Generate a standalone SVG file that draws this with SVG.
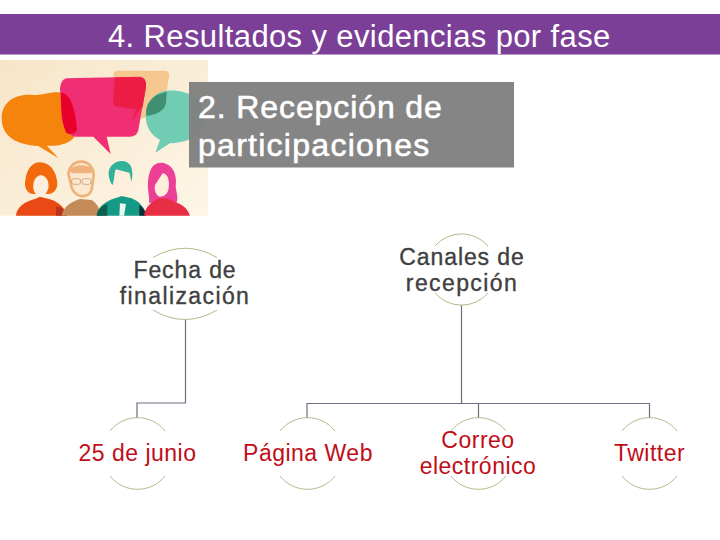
<svg xmlns="http://www.w3.org/2000/svg" width="720" height="540" viewBox="0 0 720 540">
<style>
text{font-family:"Liberation Sans",Arial,sans-serif}
.dark{font-size:23px;fill:#404040;stroke:#404040;stroke-width:.35px;text-anchor:middle;letter-spacing:.9px}
.red{font-size:23px;fill:#c00d18;text-anchor:middle;letter-spacing:.5px}
.arc{fill:none;stroke:#b4bb8c;stroke-width:1}
.conn{fill:none;stroke:#6f6f82;stroke-width:1.2}
.head{font-size:31px;fill:#fff;letter-spacing:.38px}
.sub{font-size:32px;fill:#fff;stroke:#fff;stroke-width:.6px;letter-spacing:1.27px}
</style>
<defs>
<linearGradient id="bg" x1="0" y1="0" x2="1" y2="1"><stop offset="0" stop-color="#f7e5c9"/><stop offset="1" stop-color="#fdf6e6"/></linearGradient>
<filter id="soft" x="0" y="0" width="1" height="1"><feGaussianBlur stdDeviation="1.5"/></filter>
</defs>
<rect width="720" height="540" fill="#fff"/>
<rect x="0" y="14" width="720" height="40.500" fill="#7c3f98"/>
<text class="head" x="108" y="47">4. Resultados y evidencias por fase</text>

<g transform="translate(0,50) scale(.33333)" filter="url(#soft)">
<rect x="0" y="30" width="624" height="467" fill="url(#bg)"/>
<path d="M355 62H495Q510 62 507 80L495 150Q480 185 440 200L400 215L415 180L340 170V75Q340 62 355 62Z" fill="#f6c78f"/>
<path d="M5 205C5 160 40 130 100 135C130 135 155 122 190 128C215 135 225 190 230 235C230 275 190 290 140 287L176 325L115 288C50 285 5 260 5 205Z" fill="#f58408"/>
<path d="M200 85L420 80Q440 82 438 110L415 240Q410 262 385 260H320L332 312L280 260H225Q190 250 185 200L180 115Q182 88 200 85Z" fill="#ef2f73"/>
<path d="M345 82H420Q440 84 438 110L428 170L415 185L395 215L408 178L350 170Q338 165 339 150Z" fill="#ed1f45"/>
<path d="M183 128C210 130 225 170 231 235C231 250 215 255 200 250C190 235 182 190 183 128Z" fill="#e8062c"/>
<path d="M500 122C570 118 615 150 612 210C610 260 560 278 510 280L466 308L480 270C450 255 435 225 437 190C440 150 470 125 500 122Z" fill="#70cdb3"/>
<path d="M500 125L498 160Q490 192 440 198Q432 160 470 135Z" fill="#3f8f73"/>
<path d="M120 337C150 337 170 365 172 400C172 420 160 432 145 432H98C80 430 72 410 76 390C80 360 95 337 120 337Z" fill="#f26a10"/>
<path d="M48 497C50 470 75 455 105 447L120 440L150 448C180 458 195 475 200 497Z" fill="#ea4a16"/>
<path d="M122 375C140 378 148 395 145 415C140 432 130 440 122 440C112 440 102 430 100 415C98 395 105 380 122 375Z" fill="#fdeedd"/>
<path d="M168 470C190 470 200 485 200 497H168Z" fill="#b8321e"/>
<path d="M185 497C188 470 215 455 240 447L275 450C290 460 300 475 302 497Z" fill="#c48b58"/>
<path d="M243 335C270 335 285 360 280 385L275 420C268 435 255 440 243 438C225 435 215 420 212 400L205 370C208 350 222 335 243 335Z" fill="#fbe8cf" stroke="#eeb27a" stroke-width="8"/>
<path d="M207 365C215 340 270 338 282 365L270 370H220Z" fill="#f0b27c"/>
<g fill="none" stroke="#c58e60" stroke-width="2"><rect x="215" y="386" width="27" height="17" rx="7"/><rect x="246" y="386" width="27" height="17" rx="7"/></g>
<path d="M290 497C292 470 320 452 345 445L365 438L395 445C420 455 435 475 438 497Z" fill="#169a88"/>
<path d="M290 497C292 480 305 468 322 462V497Z" fill="#0d5e50"/>
<path d="M418 465C430 472 438 485 438 497H418Z" fill="#0f2f3a"/>
<path d="M360 460L378 462L372 497H358Z" fill="#eef8f0"/>
<path d="M362 345C385 345 395 370 392 395L385 425C375 440 350 440 342 425L335 385C335 365 345 350 362 345Z" fill="#fdeedd"/>
<path d="M327 380C320 350 345 332 368 333C392 335 402 355 395 395L388 368L348 358C342 365 345 385 338 405C332 400 328 390 327 380Z" fill="#32b19b"/>
<path d="M485 338C520 342 532 375 527 410C530 430 535 445 530 458L447 458C450 435 440 420 445 385C450 355 460 338 485 338Z" fill="#ec3f96"/>
<path d="M488 370C505 372 510 395 505 420C500 435 490 440 480 440C468 438 462 420 465 405Z" fill="#fdeedd"/>
<path d="M432 497C436 470 455 455 478 445H500L530 458C552 465 565 480 570 497Z" fill="#e72e45"/>
</g>

<rect x="189" y="82" width="325" height="85.500" fill="#808080" fill-opacity=".96"/>
<text class="sub" x="198" y="118" style="letter-spacing:.9px">2. Recepción de</text>
<text class="sub" x="198" y="156">participaciones</text>

<g id="connectors">
<path class="conn" d="M185.500 319V403H137V418"/>
<path class="conn" d="M461.500 305V403.500M307 418V403.500H649.500V418M478.500 403.500V418"/>
</g>

<g id="node-fecha">
<path class="arc" d="M153 257.500Q185 239 217 257.500M153 310Q185 329 217 310"/>
<text class="dark" x="185" y="278">Fecha de</text>
<text class="dark" x="185" y="304" style="letter-spacing:1.4px">finalización</text>
</g>
<g id="node-canales">
<path class="arc" d="M435 246A35 35 0 0 1 488 246M435 293A35 35 0 0 0 488 293"/>
<text class="dark" x="462" y="264.500">Canales de</text>
<text class="dark" x="462" y="290.500" style="letter-spacing:1.4px">recepción</text>
</g>
<g id="node-junio">
<path class="arc" d="M110 431A35 35 0 0 1 165 431M110 476A35 35 0 0 0 165 476"/>
<text class="red" x="137.500" y="461">25 de junio</text>
</g>
<g id="node-web">
<path class="arc" d="M280 431A35 35 0 0 1 335 431M280 476A35 35 0 0 0 335 476"/>
<text class="red" x="308" y="461">Página Web</text>
</g>
<g id="node-correo">
<path class="arc" d="M451 431A35 35 0 0 1 506 431M451 476A35 35 0 0 0 506 476"/>
<text class="red" x="478" y="448">Correo</text>
<text class="red" x="478" y="474">electrónico</text>
</g>
<g id="node-twitter">
<path class="arc" d="M622 431A35 35 0 0 1 677 431M622 476A35 35 0 0 0 677 476"/>
<text class="red" x="649.500" y="461">Twitter</text>
</g>
</svg>
